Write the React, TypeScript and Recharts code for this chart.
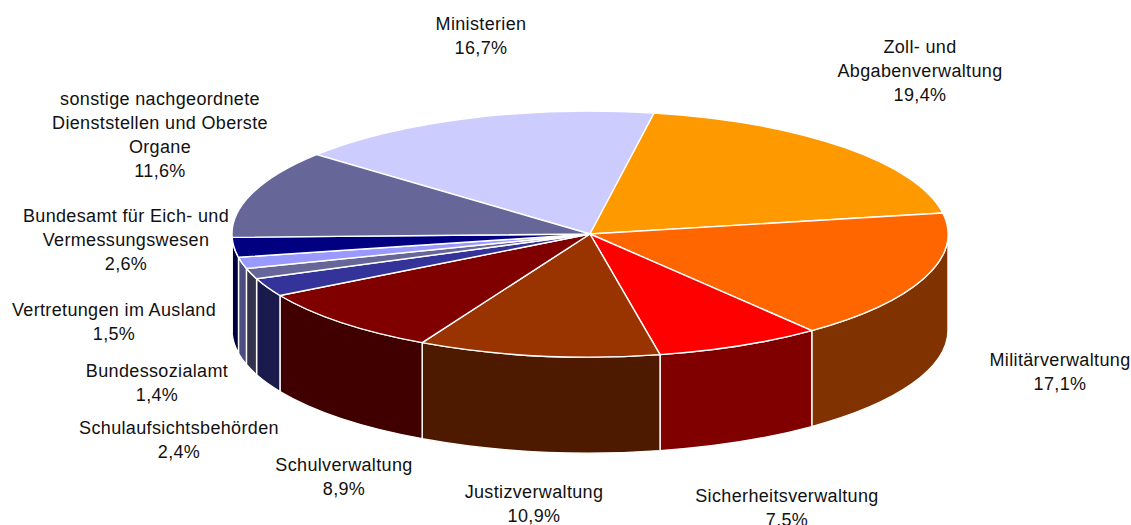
import React from 'react';
import { PieChart, Pie } from 'recharts';

const categories = [
  'Ministerien',
  'Zoll- und\nAbgabenverwaltung',
  'Militärverwaltung',
  'Sicherheitsverwaltung',
  'Justizverwaltung',
  'Schulverwaltung',
  'Schulaufsichtsbehörden',
  'Bundessozialamt',
  'Vertretungen im Ausland',
  'Bundesamt für Eich- und\nVermessungswesen',
  'sonstige nachgeordnete\nDienststellen und Oberste\nOrgane',
];
const shares = [16.7, 19.4, 17.1, 7.5, 10.9, 8.9, 2.4, 1.4, 1.5, 2.6, 11.6];

const topColors = ['#CCCCFF', '#FF9900', '#FF6600', '#FF0000', '#993300', '#800000', '#333399', '#666699', '#9999FF', '#000080', '#666699'];
const sideColors = ['#666680', '#804D00', '#803300', '#800000', '#4D1A00', '#400000', '#1A1A4D', '#33334D', '#4D4D80', '#000040', '#33334D'];

// centre of each label's first line
const labelSpots = [
  [481, 24], [920, 47], [1060, 360], [787, 496], [534, 492], [344, 465],
  [179, 428], [157, 371], [114, 310], [126, 216], [160, 99],
];

const CX = 590;
const CY = 234;
const RADIUS = 358;
const SQUASH = 123 / 358; // ellipse height over width
const DEPTH = 96;
const LINE_HEIGHT = 24;

const rows = categories.map((name, i) => ({ name, value: shares[i], index: i }));

const rim = (theta: number, drop = 0) => {
  const rad = (theta * Math.PI) / 180;
  return [CX + RADIUS * Math.cos(rad), CY + RADIUS * SQUASH * Math.sin(rad) + drop];
};

const arc = (to: number[]) => `A${RADIUS} ${RADIUS * SQUASH} 0 0 1 ${to[0]} ${to[1]}`;

// elliptical path between two screen angles, in steps so long arcs stay well formed
const arcPath = (from: number, to: number, drop = 0) => {
  const steps = Math.max(1, Math.ceil(Math.abs(to - from) / 60));
  let d = '';
  for (let s = 1; s <= steps; s++) d += arc(rim(from + ((to - from) * s) / steps, drop));
  return d;
};

// one slice: the top face plus the part of its outer wall that faces the viewer
const Slice = (props: any) => {
  const { startAngle, endAngle, index } = props;
  const from = -startAngle;
  const to = -endAngle;
  const walls: string[] = [];
  [-360, 0, 360].forEach((turn) => {
    const a = Math.max(from, turn);
    const b = Math.min(to, turn + 180);
    if (b > a) {
      const p = rim(a);
      const q = rim(b, DEPTH);
      walls.push(`M${p[0]} ${p[1]}${arcPath(a, b)}L${q[0]} ${q[1]}${arcPath(b, a, DEPTH).replace(/ 0 0 1 /g, ' 0 0 0 ')}Z`);
    }
  });
  const start = rim(from);
  return (
    <g>
      {walls.map((d) => (
        <path key={d} d={d} fill={sideColors[index]} stroke="#fff" strokeWidth={1.4} />
      ))}
      <path
        d={`M${CX} ${CY}L${start[0]} ${start[1]}${arcPath(from, to)}Z`}
        fill={topColors[index]}
        stroke="#fff"
        strokeWidth={1.4}
      />
    </g>
  );
};

const SliceLabel = (props: any) => {
  const { index } = props;
  const lines = [...categories[index].split('\n'), `${shares[index].toFixed(1).replace('.', ',')}%`];
  const [x, y] = labelSpots[index];
  return (
    <text
      textAnchor="middle"
      dominantBaseline="central"
      fontFamily="Liberation Sans"
      fontSize={18}
      letterSpacing={0.35}
      fill="#111"
    >
      {lines.map((line, i) => (
        <tspan key={i} x={x} y={y + i * LINE_HEIGHT}>
          {line}
        </tspan>
      ))}
    </text>
  );
};

export default function App() {
  return (
    <div style={{ position: 'absolute', left: 0, top: 0, width: 1131, height: 525, background: '#fff' }}>
      <PieChart width={1131} height={525} margin={{ top: 0, right: 0, bottom: 0, left: 0 }}>
        <Pie
          data={rows}
          dataKey="value"
          nameKey="name"
          cx={CX}
          cy={CY}
          innerRadius={0}
          outerRadius={RADIUS}
          startAngle={139.8}
          endAngle={-220.2}
          shape={Slice}
          label={SliceLabel}
          labelLine={false}
          isAnimationActive={false}
        />
      </PieChart>
    </div>
  );
}
